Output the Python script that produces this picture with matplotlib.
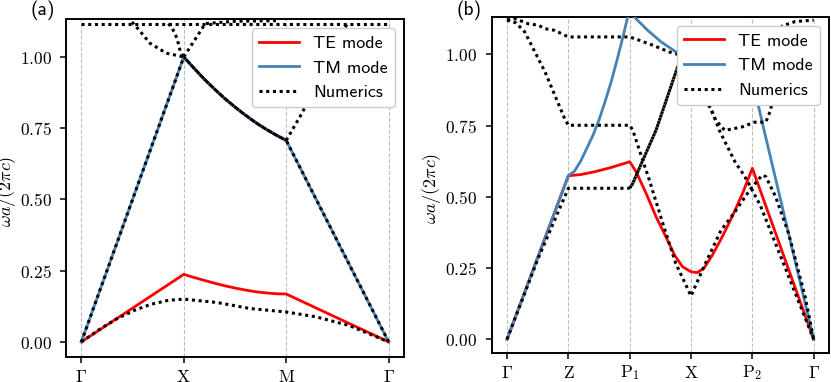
import matplotlib
matplotlib.use('Agg')
import matplotlib.pyplot as plt
from matplotlib.ticker import FormatStrFormatter
from matplotlib.lines import Line2D

plt.rcParams['mathtext.fontset'] = 'cm'

# ---- panel (a): square lattice path G-X-M-G
ticks_a = [r'$\Gamma$', r'$\mathrm{X}$', r'$\mathrm{M}$', r'$\Gamma$']

te_a_x = [0, 1, 1.1, 1.2, 1.3, 1.4, 1.5, 1.6, 1.7, 1.8, 1.9, 2, 3]
te_a_y = [0, 0.237, 0.226, 0.216, 0.206, 0.197, 0.189, 0.182, 0.176, 0.172, 0.169, 0.168, 0]

tm_a_x = [0, 1, 1.1, 1.2, 1.3, 1.4, 1.5, 1.6, 1.7, 1.8, 1.9, 2, 3]
tm_a_y = [0, 1.0, 0.960, 0.922, 0.887, 0.854, 0.824, 0.796, 0.770, 0.747, 0.726, 0.707, 0]

num_a = [
    ([0, 0.19, 0.35, 0.52, 0.68, 0.85, 1, 1.33, 1.65, 2, 2.29, 2.61, 3],
     [0, 0.047, 0.082, 0.111, 0.132, 0.146, 0.15, 0.138, 0.117, 0.105, 0.088, 0.058, 0]),
    (tm_a_x, tm_a_y),
    (tm_a_x[1:12], tm_a_y[1:12]),
    ([0, 3], [1.117, 1.117]),
    ([0.45, 0.55, 0.67, 0.83, 1], [1.14, 1.1, 1.048, 1.013, 1.0]),
    ([0.85, 0.89, 0.935, 0.967, 1], [1.117, 1.099, 1.064, 1.018, 1.0]),
    ([1, 1.21, 1.5, 1.9], [1.0, 1.117, 1.125, 1.127]),
    ([2, 2.15, 2.6], [0.707, 0.80, 1.12]),
]
offset_a = [0, 0, 1.1, 0, 0, 0, 0, 0]

# ---- panel (b): path G-Z-P1-X-P2-G
ticks_b = [r'$\Gamma$', r'$\mathrm{Z}$', r'$\mathrm{P}_1$', r'$\mathrm{X}$', r'$\mathrm{P}_2$', r'$\Gamma$']

te_b_x = [0, 1, 1.2, 1.43, 1.7, 2, 2.105, 2.268, 2.43, 2.59, 2.73, 2.86, 3.0, 3.1, 3.21,
          3.35, 3.51, 3.67, 3.84, 4, 5]
te_b_y = [0, 0.574, 0.578, 0.588, 0.603, 0.623, 0.588, 0.512, 0.43, 0.36, 0.296, 0.255, 0.237,
          0.234, 0.249, 0.296, 0.36, 0.43, 0.512, 0.60, 0]

tm_b_x = [0, 1, 1.1, 1.2, 1.3, 1.4, 1.5, 1.6, 1.7, 1.8, 1.9, 2.0, 2.08, 2.29, 2.51, 2.75,
          3.0, 3.5, 4.0, 4.19, 5]
tm_b_y = [0, 0.574, 0.59, 0.625, 0.67, 0.715, 0.77, 0.835, 0.905, 0.985, 1.07, 1.16, 1.13,
          1.085, 1.044, 1.009, 1.0, 0.97, 0.91, 0.735, 0]

num_b = [
    ([0, 0.5, 1, 2], [0, 0.28, 0.53, 0.53]),
    ([2, 2.05, 2.24, 2.43, 2.78, 3.0], [0.53, 0.547, 0.641, 0.734, 0.955, 1.05]),
    ([2, 2.05, 2.24, 2.43, 2.78, 3.0], [0.53, 0.547, 0.641, 0.734, 0.955, 1.05]),
    ([0, 0.15, 0.29, 0.62, 0.94, 1, 2, 2.05, 2.32, 2.54, 2.75, 3.0, 3.21, 3.49, 3.70, 3.92,
      4.0, 4.16, 4.22, 4.38, 4.59, 4.86, 5],
     [1.12, 1.11, 1.078, 0.938, 0.774, 0.751, 0.751, 0.734, 0.559, 0.407, 0.267, 0.152, 0.255,
      0.383, 0.442, 0.512, 0.535, 0.576, 0.571, 0.50, 0.372, 0.15, 0]),
    ([0, 0.13, 0.35, 0.51, 0.62, 0.78, 0.94, 1, 2, 2.16, 2.375, 2.65, 2.78, 3.0],
     [1.12, 1.125, 1.107, 1.102, 1.09, 1.084, 1.067, 1.061, 1.061, 1.049, 1.032, 1.008, 1.0, 0.99]),
    ([3.0, 3.2, 3.35, 3.46, 3.73, 3.81, 3.92, 4.03, 4.13, 4.5, 5],
     [1.0, 0.86, 0.797, 0.734, 0.617, 0.594, 0.555, 0.51, 0.47, 0.27, 0]),
    ([3.0, 3.25, 3.4, 3.55, 3.83, 4.04, 4.22, 4.3, 4.49, 4.7, 5],
     [0.95, 0.84, 0.77, 0.733, 0.745, 0.762, 0.762, 0.805, 1.10, 1.115, 1.12]),
    ([0, 0.15, 0.3], [1.12, 1.13, 1.15]),
]
offset_b = [0, 0, 1.1, 0, 0, 0, 0, 0]

red = '#ff0000'
blue = '#4682b4'
dots = (1, 1.2)

fig = plt.figure(figsize=(8.31, 3.82), dpi=100)
ax_a = fig.add_axes([66 / 831, 25 / 382, 338 / 831, 338 / 382])
ax_b = fig.add_axes([491.7 / 831, 29.3 / 382, 337.3 / 831, 336 / 382])


def draw(ax, te_x, te_y, tm_x, tm_y, num, offs, labels, ylim):
    ax.plot(te_x, te_y, color=red, lw=2.0, zorder=3)
    ax.plot(tm_x, tm_y, color=blue, lw=2.0, zorder=3)
    for (xs, ys), o in zip(num, offs):
        ax.plot(xs, ys, color='black', lw=2.2, linestyle=(o, dots), zorder=4)
    n = len(labels)
    ax.set_xticks(range(n))
    ax.set_xticklabels(labels)
    ax.set_xlim(-0.05 * (n - 1), (n - 1) * 1.05)
    ax.set_ylim(*ylim)
    ax.set_yticks([0, 0.25, 0.5, 0.75, 1.0])
    ax.yaxis.set_major_formatter(FormatStrFormatter(r'$%.2f$'))
    ax.tick_params(labelsize=12.5, width=1.1, length=4.3)
    ax.tick_params(axis='y', pad=6)
    ax.tick_params(axis='x', pad=3.5)
    ax.grid(axis='x', linestyle='--', color='0.75', lw=0.8)
    for s in ax.spines.values():
        s.set_linewidth(1.4)
    ax.set_ylabel(r'$\omega a/(2\pi c)$', fontsize=13)
    ax.yaxis.set_label_coords(-0.143, 0.49)
    handles = [Line2D([], [], color=red, lw=2.0),
               Line2D([], [], color=blue, lw=2.0),
               Line2D([], [], color='black', lw=2.2, linestyle=(0, dots))]
    ax.legend(handles, ['TE mode', 'TM mode', 'Numerics'], loc='upper right',
              prop={'family': 'cmss10', 'size': 13}, framealpha=1, handlelength=2.2)


draw(ax_a, te_a_x, te_a_y, tm_a_x, tm_a_y, num_a, offset_a, ticks_a, (-0.053, 1.133))
draw(ax_b, te_b_x, te_b_y, tm_b_x, tm_b_y, num_b, offset_b, ticks_b, (-0.047, 1.132))

fig.text(31 / 831, 1 - 1 / 382, '(a)', fontsize=14, family='cmss10', va='top')
fig.text(457 / 831, 1 - 0 / 382, '(b)', fontsize=14, family='cmss10', va='top')

fig.savefig('out.png', dpi=100)
